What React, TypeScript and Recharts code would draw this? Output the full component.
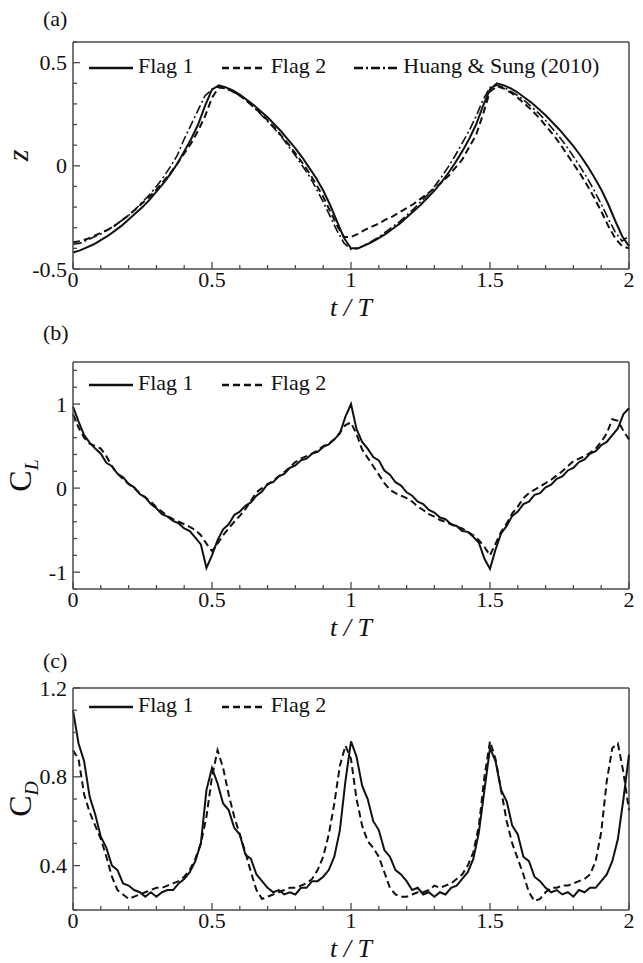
import React from 'react'
import { LineChart, Line, XAxis, YAxis, Legend, ReferenceLine } from 'recharts'

const SERIF = '"Liberation Serif", "Times New Roman", serif'
const INK = '#111'
const AXIS = '#4a4a4a'

// ---- panel (a): tip displacement z ----
const tA = [
  0, 0.025, 0.05, 0.075, 0.1, 0.125, 0.15, 0.175, 0.2, 0.225,
  0.25, 0.275, 0.3, 0.325, 0.35, 0.375, 0.4, 0.425, 0.45, 0.475,
  0.5, 0.525, 0.55, 0.575, 0.6, 0.625, 0.65, 0.675, 0.7, 0.725,
  0.75, 0.775, 0.8, 0.825, 0.85, 0.875, 0.9, 0.925, 0.95, 0.975,
  1, 1.025, 1.05, 1.075, 1.1, 1.125, 1.15, 1.175, 1.2, 1.225,
  1.25, 1.275, 1.3, 1.325, 1.35, 1.375, 1.4, 1.425, 1.45, 1.475,
  1.5, 1.525, 1.55, 1.575, 1.6, 1.625, 1.65, 1.675, 1.7, 1.725,
  1.75, 1.775, 1.8, 1.825, 1.85, 1.875, 1.9, 1.925, 1.95, 1.975,
  2,
]
const zFlag1 = [
  -0.42, -0.41, -0.395, -0.38, -0.36, -0.34, -0.315, -0.29, -0.26, -0.23,
  -0.2, -0.165, -0.125, -0.085, -0.04, 0.01, 0.07, 0.13, 0.2, 0.29,
  0.37, 0.39, 0.38, 0.365, 0.345, 0.32, 0.295, 0.265, 0.235, 0.2,
  0.165, 0.125, 0.085, 0.04, -0.01, -0.06, -0.12, -0.19, -0.27, -0.35,
  -0.4, -0.4, -0.385, -0.37, -0.35, -0.33, -0.305, -0.28, -0.25, -0.22,
  -0.19, -0.155, -0.12, -0.08, -0.035, 0.015, 0.07, 0.13, 0.2, 0.29,
  0.37, 0.4, 0.39, 0.375, 0.355, 0.33, 0.305, 0.275, 0.245, 0.21,
  0.175, 0.135, 0.095, 0.05, 0.0, -0.055, -0.115, -0.185, -0.265, -0.34,
  -0.39,
]
const zFlag2 = [
  -0.37, -0.365, -0.355, -0.34, -0.325, -0.31, -0.29, -0.265, -0.24, -0.21,
  -0.18, -0.15, -0.115, -0.075, -0.035, 0.01, 0.06, 0.11, 0.17, 0.24,
  0.33, 0.38, 0.375, 0.36, 0.34, 0.315, 0.285, 0.255, 0.22, 0.185,
  0.145, 0.105, 0.06, 0.015, -0.035, -0.09, -0.15, -0.22, -0.29, -0.345,
  -0.345, -0.33, -0.31, -0.295, -0.28, -0.26, -0.245, -0.225, -0.205, -0.185,
  -0.16, -0.135, -0.11, -0.08, -0.05, -0.01, 0.03, 0.09, 0.15, 0.25,
  0.36, 0.385, 0.375, 0.355, 0.33, 0.3, 0.27, 0.235, 0.195, 0.155,
  0.11, 0.06, 0.01, -0.04, -0.095, -0.155, -0.22, -0.29, -0.35, -0.39,
  -0.4,
]
const zHuang = [
  -0.38, -0.375, -0.36, -0.345, -0.33, -0.31, -0.29, -0.265, -0.24, -0.21,
  -0.175, -0.14, -0.1, -0.055, -0.005, 0.05, 0.13, 0.2, 0.27, 0.34,
  0.37, 0.385, 0.375, 0.36, 0.34, 0.315, 0.285, 0.25, 0.215, 0.18,
  0.14, 0.095, 0.05, 0.0, -0.05, -0.11, -0.175, -0.245, -0.315, -0.375,
  -0.405, -0.4, -0.385, -0.365, -0.345, -0.32, -0.295, -0.27, -0.24, -0.21,
  -0.175, -0.14, -0.1, -0.055, -0.005, 0.05, 0.11, 0.17, 0.24, 0.32,
  0.38, 0.39, 0.38, 0.36, 0.34, 0.315, 0.285, 0.255, 0.22, 0.18,
  0.14, 0.095, 0.045, -0.005, -0.06, -0.12, -0.185, -0.255, -0.32, -0.365,
  -0.34,
]

// ---- panels (b), (c): lift and drag coefficients ----
const tB = [
  0, 0.02, 0.04, 0.06, 0.08, 0.1, 0.12, 0.14, 0.16, 0.18,
  0.2, 0.22, 0.24, 0.26, 0.28, 0.3, 0.32, 0.34, 0.36, 0.38,
  0.4, 0.42, 0.44, 0.46, 0.48, 0.5, 0.52, 0.54, 0.56, 0.58,
  0.6, 0.62, 0.64, 0.66, 0.68, 0.7, 0.72, 0.74, 0.76, 0.78,
  0.8, 0.82, 0.84, 0.86, 0.88, 0.9, 0.92, 0.94, 0.96, 0.98,
  1, 1.02, 1.04, 1.06, 1.08, 1.1, 1.12, 1.14, 1.16, 1.18,
  1.2, 1.22, 1.24, 1.26, 1.28, 1.3, 1.32, 1.34, 1.36, 1.38,
  1.4, 1.42, 1.44, 1.46, 1.48, 1.5, 1.52, 1.54, 1.56, 1.58,
  1.6, 1.62, 1.64, 1.66, 1.68, 1.7, 1.72, 1.74, 1.76, 1.78,
  1.8, 1.82, 1.84, 1.86, 1.88, 1.9, 1.92, 1.94, 1.96, 1.98,
  2,
]
const clFlag1 = [
  0.97, 0.79, 0.63, 0.54, 0.47, 0.41, 0.3, 0.26, 0.17, 0.13,
  0.05, 0.01, -0.07, -0.11, -0.19, -0.24, -0.31, -0.34, -0.39, -0.42,
  -0.48, -0.51, -0.59, -0.67, -0.95, -0.8, -0.62, -0.49, -0.43, -0.32,
  -0.28, -0.21, -0.17, -0.09, -0.04, 0.05, 0.07, 0.14, 0.17, 0.24,
  0.27, 0.33, 0.35, 0.41, 0.43, 0.49, 0.52, 0.58, 0.65, 0.85,
  1.0, 0.7, 0.55, 0.47, 0.37, 0.33, 0.21, 0.16, 0.07, 0.03,
  -0.05, -0.09, -0.16, -0.19, -0.26, -0.29, -0.35, -0.37, -0.43, -0.45,
  -0.51, -0.52, -0.58, -0.65, -0.84, -0.96, -0.73, -0.54, -0.45, -0.33,
  -0.28, -0.19, -0.16, -0.08, -0.06, 0.01, 0.04, 0.11, 0.14, 0.21,
  0.24, 0.31, 0.34, 0.41, 0.44, 0.51, 0.55, 0.63, 0.71, 0.88,
  0.95,
]
const clFlag2 = [
  0.88, 0.72, 0.6, 0.53, 0.5, 0.47, 0.38, 0.26, 0.17, 0.11,
  0.05, 0.0, -0.06, -0.11, -0.16, -0.23, -0.28, -0.33, -0.37, -0.4,
  -0.43, -0.46, -0.5, -0.56, -0.66, -0.75, -0.66, -0.56, -0.48, -0.4,
  -0.33, -0.25, -0.15, -0.05, 0.0, 0.04, 0.09, 0.14, 0.19, 0.25,
  0.31, 0.35, 0.38, 0.41, 0.45, 0.5, 0.53, 0.58, 0.66, 0.75,
  0.78, 0.64, 0.46, 0.36, 0.26, 0.16, 0.06, -0.02, -0.06, -0.09,
  -0.12, -0.16, -0.22, -0.26, -0.31, -0.34, -0.38, -0.4, -0.43, -0.46,
  -0.48, -0.52, -0.56, -0.62, -0.7, -0.8, -0.66, -0.52, -0.42, -0.3,
  -0.22, -0.12, -0.06, -0.02, 0.02, 0.06, 0.1, 0.15, 0.2, 0.26,
  0.32, 0.35, 0.38, 0.42, 0.47, 0.55, 0.65, 0.82, 0.8, 0.68,
  0.58,
]
const cdFlag1 = [
  1.1, 0.95, 0.87, 0.71, 0.63, 0.53, 0.48, 0.4, 0.38, 0.32,
  0.31, 0.29, 0.28, 0.26, 0.28, 0.26, 0.28, 0.29, 0.29, 0.32,
  0.34, 0.37, 0.42, 0.5, 0.74, 0.84, 0.77, 0.68, 0.65, 0.57,
  0.54, 0.45, 0.43, 0.36, 0.33, 0.3, 0.28, 0.29, 0.27, 0.28,
  0.27, 0.3, 0.3, 0.33, 0.33, 0.35, 0.38, 0.44, 0.56, 0.78,
  0.96, 0.89, 0.76, 0.7, 0.6, 0.56, 0.47, 0.44, 0.38, 0.36,
  0.33, 0.29, 0.3, 0.27, 0.28, 0.26, 0.28, 0.27, 0.3, 0.31,
  0.34, 0.37, 0.43, 0.55, 0.74, 0.93, 0.87, 0.74, 0.69, 0.58,
  0.54, 0.44, 0.42, 0.35, 0.33, 0.3, 0.28, 0.29, 0.27, 0.28,
  0.26, 0.29, 0.28, 0.3, 0.3, 0.33, 0.36, 0.42, 0.52, 0.7,
  0.9,
]
const cdFlag2 = [
  0.92, 0.88, 0.72, 0.64, 0.58, 0.52, 0.44, 0.35, 0.29, 0.27,
  0.25, 0.26, 0.27, 0.28, 0.29, 0.3, 0.3, 0.31, 0.32, 0.33,
  0.35, 0.38, 0.43, 0.5, 0.62, 0.8, 0.92, 0.84, 0.72, 0.62,
  0.54, 0.46, 0.37, 0.29, 0.25, 0.26, 0.27, 0.28, 0.29, 0.3,
  0.3, 0.31, 0.32, 0.34, 0.38, 0.44, 0.54, 0.68, 0.85, 0.94,
  0.88, 0.7, 0.58, 0.51, 0.48, 0.44, 0.37, 0.3, 0.27, 0.26,
  0.26, 0.27, 0.28, 0.28, 0.29, 0.31, 0.3, 0.31, 0.32, 0.34,
  0.36, 0.4, 0.46, 0.58, 0.8, 0.96, 0.88, 0.74, 0.6, 0.5,
  0.43, 0.36, 0.28, 0.24, 0.25, 0.28, 0.3, 0.3, 0.31, 0.31,
  0.32, 0.33, 0.34, 0.36, 0.42, 0.55, 0.78, 0.93, 0.95, 0.82,
  0.65,
]

// ticks (minor + labelled major)
const xTicks = [0, 0.1, 0.2, 0.3, 0.4, 0.5, 0.6, 0.7, 0.8, 0.9, 1, 1.1, 1.2, 1.3, 1.4, 1.5, 1.6, 1.7, 1.8, 1.9, 2]
const xMajor = [0, 0.5, 1, 1.5, 2]
const zTicks = [-0.5, -0.4, -0.3, -0.2, -0.1, 0, 0.1, 0.2, 0.3, 0.4, 0.5, 0.6]
const zMajor = [-0.5, 0, 0.5]
const clTicks = [-1.2, -1, -0.8, -0.6, -0.4, -0.2, 0, 0.2, 0.4, 0.6, 0.8, 1, 1.2, 1.4]
const clMajor = [-1, 0, 1]
const cdTicks = [0.2, 0.3, 0.4, 0.5, 0.6, 0.7, 0.8, 0.9, 1, 1.1, 1.2]
const cdMajor = [0.4, 0.8, 1.2]

const legendNames = ['Flag 1', 'Flag 2', 'Huang & Sung (2010)']
const DASHES = [undefined, '7 4', '9 3 2 3']

const zData = tA.map((t, i) => ({ t, flag1: zFlag1[i], flag2: zFlag2[i], huang: zHuang[i] }))
const clData = tB.map((t, i) => ({ t, flag1: clFlag1[i], flag2: clFlag2[i] }))
const cdData = tB.map((t, i) => ({ t, flag1: cdFlag1[i], flag2: cdFlag2[i] }))

const renderXTick = (props: any) => {
  const { x, y, payload } = props
  const major = xMajor.includes(payload.value)
  return (
    <g>
      <line x1={x} y1={y} x2={x} y2={y - (major ? 7 : 4)} stroke={AXIS} strokeWidth={1.3} />
      {major && (
        <text x={x} y={y + 18} textAnchor="middle" fontFamily={SERIF} fontSize={22} fill={INK}>
          {String(payload.value)}
        </text>
      )}
    </g>
  )
}

const yTick = (majors: number[]) => (props: any) => {
  const { x, y, payload } = props
  const major = majors.includes(payload.value)
  return (
    <g>
      <line x1={x} y1={y} x2={x + (major ? 7 : 4)} y2={y} stroke={AXIS} strokeWidth={1.3} />
      {major && (
        <text x={x - 6} y={y + 7.5} textAnchor="end" fontFamily={SERIF} fontSize={22} fill={INK}>
          {String(payload.value)}
        </text>
      )}
    </g>
  )
}

const xLabel = (props: any) => {
  const vb = props.viewBox
  return (
    <text x={vb.x + vb.width / 2} y={vb.y + 47} textAnchor="middle" fontFamily={SERIF} fontSize={26} fontStyle="italic" fill={INK}>
      t / T
    </text>
  )
}

const yLabel = (main: string, sub: string | null, size: number, italic: boolean, cx: number) => (props: any) => {
  const vb = props.viewBox
  const cy = vb.y + vb.height / 2
  return (
    <text
      x={cx}
      y={cy}
      transform={`rotate(-90, ${cx}, ${cy})`}
      textAnchor="middle"
      fontFamily={SERIF}
      fontSize={size}
      fontStyle={italic ? 'italic' : 'normal'}
      fill={INK}
    >
      {main}
      {sub && (
        <tspan fontSize={size * 0.62} fontStyle="italic" dy={7}>
          {sub}
        </tspan>
      )}
    </text>
  )
}

const legendContent = (count: number) => () => (
  <div style={{ display: 'flex', alignItems: 'center', fontFamily: SERIF, fontSize: 22, color: INK, whiteSpace: 'nowrap' }}>
    {legendNames.slice(0, count).map((name, i) => (
      <div key={name} style={{ display: 'flex', alignItems: 'center', marginRight: 28 }}>
        <svg width={44} height={10}>
          <line x1={0} y1={5} x2={44} y2={5} stroke={INK} strokeWidth={2.5} strokeDasharray={DASHES[i]} />
        </svg>
        <span style={{ marginLeft: 5, position: 'relative', top: -2 }}>{name}</span>
      </div>
    ))}
  </div>
)

const axisLine = { stroke: AXIS, strokeWidth: 1.5 }

function Panel({ data, height, top, plotH, domain, yTicks, yMajor, label, legendTop, series }: any) {
  return (
    <LineChart width={643} height={height} data={data} margin={{ top, right: 14, bottom: height - top - plotH - 45, left: 0 }}>
      <XAxis
        dataKey="t"
        type="number"
        domain={[0, 2]}
        ticks={xTicks}
        interval={0}
        tick={renderXTick}
        tickLine={false}
        tickSize={0}
        tickMargin={0}
        axisLine={axisLine}
        height={45}
        label={xLabel}
      />
      <YAxis
        type="number"
        domain={domain}
        allowDataOverflow
        ticks={yTicks}
        interval={0}
        tick={yTick(yMajor)}
        tickLine={false}
        tickSize={0}
        tickMargin={0}
        axisLine={axisLine}
        width={73}
        label={label}
      />
      <ReferenceLine y={domain[1]} stroke={AXIS} strokeWidth={1.5} />
      <ReferenceLine x={2} stroke={AXIS} strokeWidth={1.5} />
      <Legend
        layout="horizontal"
        verticalAlign="middle"
        align="center"
        content={legendContent(series)}
        wrapperStyle={{ left: 89, top: legendTop, width: 'auto' }}
      />
      <Line dataKey="flag1" type="linear" stroke={INK} strokeWidth={2} dot={false} isAnimationActive={false} />
      <Line dataKey="flag2" type="linear" stroke={INK} strokeWidth={2} strokeDasharray={DASHES[1]} dot={false} isAnimationActive={false} />
      {series > 2 && (
        <Line dataKey="huang" type="linear" stroke={INK} strokeWidth={1.6} strokeDasharray={DASHES[2]} dot={false} isAnimationActive={false} />
      )}
    </LineChart>
  )
}

const tags = [
  { text: '(a)', y: 26 },
  { text: '(b)', y: 340 },
  { text: '(c)', y: 668 },
]

export default function App() {
  return (
    <div style={{ position: 'absolute', left: 0, top: 0, width: 643, height: 963, background: '#fff', overflow: 'hidden' }}>
      <div style={{ position: 'absolute', left: 0, top: 0 }}>
        <Panel data={zData} height={326} top={42} plotH={227} domain={[-0.5, 0.6]} yTicks={zTicks} yMajor={zMajor}
          label={yLabel('z', null, 30, true, 28)} legendTop={55} series={3} />
      </div>
      <div style={{ position: 'absolute', left: 0, top: 320 }}>
        <Panel data={clData} height={326} top={42} plotH={227} domain={[-1.2, 1.5]} yTicks={clTicks} yMajor={clMajor}
          label={yLabel('C', 'L', 32, false, 31)} legendTop={52} series={2} />
      </div>
      <div style={{ position: 'absolute', left: 0, top: 640 }}>
        <Panel data={cdData} height={323} top={48} plotH={222} domain={[0.2, 1.2]} yTicks={cdTicks} yMajor={cdMajor}
          label={yLabel('C', 'D', 32, false, 31)} legendTop={54} series={2} />
      </div>
      <svg width={643} height={963} style={{ position: 'absolute', left: 0, top: 0, pointerEvents: 'none' }}>
        {tags.map((tg) => (
          <text key={tg.text} x={43} y={tg.y} fontFamily={SERIF} fontSize={22} fill={INK}>
            {tg.text}
          </text>
        ))}
      </svg>
    </div>
  )
}
